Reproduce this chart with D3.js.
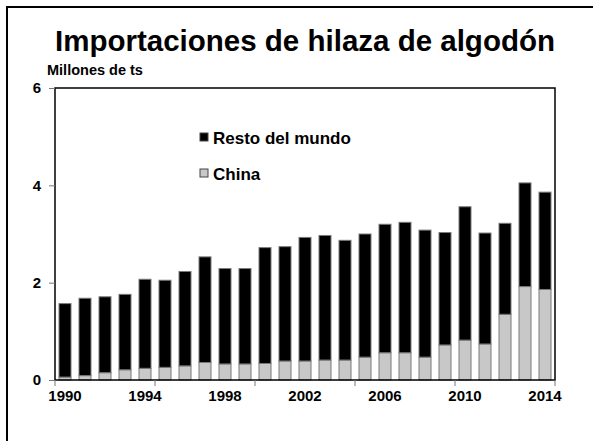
<!DOCTYPE html>
<html>
<head>
<meta charset="utf-8">
<script src="https://cdn.jsdelivr.net/npm/d3@7"></script>
<style>
  body { margin: 0; background: #fff; }
  text { font-family: "Liberation Sans", Arial, sans-serif; font-weight: bold; fill: #000; }
</style>
</head>
<body>
<svg id="chart"></svg>
<script>
// years 1990-2014, millions of tonnes
var years = d3.range(1990, 2015);
var china = [0.06, 0.09, 0.15, 0.21, 0.24, 0.26, 0.29, 0.36, 0.33, 0.33,
             0.34, 0.39, 0.39, 0.41, 0.41, 0.47, 0.56, 0.56, 0.47, 0.72,
             0.82, 0.74, 1.35, 1.92, 1.86];
var resto = [1.51, 1.59, 1.56, 1.55, 1.83, 1.79, 1.94, 2.17, 1.96, 1.96,
             2.38, 2.35, 2.54, 2.56, 2.46, 2.53, 2.64, 2.68, 2.61, 2.31,
             2.74, 2.28, 1.87, 2.13, 2.00];
var yTicks = [0, 2, 4, 6];
var xLabels = [1990, 1994, 1998, 2002, 2006, 2010, 2014];
var seriesNames = ["Resto del mundo", "China"];
var seriesColors = ["#000000", "#c8c8c8"];

var width = 593;
var height = 441;
var plotLeft = 55, plotRight = 555, plotTop = 88, plotBottom = 380;

var svg = d3.select("#chart").attr("width", width).attr("height", height);

// outer frame
svg.append("rect")
  .attr("x", 7).attr("y", 7)
  .attr("width", 600).attr("height", 460)
  .attr("fill", "none")
  .attr("stroke", "#000")
  .attr("stroke-width", 2);

svg.append("text")
  .attr("x", 305).attr("y", 51)
  .attr("text-anchor", "middle")
  .attr("font-size", "29.5px")
  .text("Importaciones de hilaza de algodón");

svg.append("text")
  .attr("x", 47).attr("y", 75)
  .attr("font-size", "14.5px")
  .text("Millones de ts");

var x = d3.scaleBand().domain(years).range([plotLeft, plotRight])
  .paddingInner(0.4).paddingOuter(0.2);
var y = d3.scaleLinear().domain([0, 6]).range([plotBottom, plotTop]);

var data = years.map(function (yr, i) {
  return { year: yr, china: china[i], resto: resto[i] };
});
var stack = d3.stack().keys(["china", "resto"]);
var layers = stack(data); // china at the bottom, resto on top

var colorFor = { china: seriesColors[1], resto: seriesColors[0] };

svg.selectAll("g.layer")
  .data(layers)
  .enter()
  .append("g")
  .attr("class", "layer")
  .attr("fill", function (d) { return colorFor[d.key]; })
  .selectAll("rect")
  .data(function (d) { return d; })
  .enter()
  .append("rect")
  .attr("x", function (d) { return x(d.data.year); })
  .attr("y", function (d) { return y(d[1]); })
  .attr("width", x.bandwidth())
  .attr("height", function (d) { return y(d[0]) - y(d[1]); })
  .attr("stroke", "#7a7a7a")
  .attr("stroke-width", 1);

// plot border
svg.append("rect")
  .attr("x", plotLeft).attr("y", plotTop)
  .attr("width", plotRight - plotLeft).attr("height", plotBottom - plotTop)
  .attr("fill", "none")
  .attr("stroke", "#000")
  .attr("stroke-width", 1.5);

// y axis
var yAxis = svg.append("g")
  .attr("transform", "translate(" + plotLeft + ",0)")
  .call(d3.axisLeft(y).tickValues(yTicks).tickSize(6).tickPadding(8).tickFormat(d3.format("d")));
yAxis.select(".domain").remove();
yAxis.selectAll("line").attr("stroke", "#777");
yAxis.selectAll("text").attr("font-size", "15px");

// x axis: labels every 4 years, tick marks every 5 categories
var xAxis = svg.append("g")
  .attr("transform", "translate(0," + plotBottom + ")")
  .call(d3.axisBottom(x).tickValues(xLabels).tickSize(0).tickPadding(10));
xAxis.select(".domain").remove();
xAxis.selectAll("text").attr("font-size", "15px");

var gap = (x.step() - x.bandwidth()) / 2;
var tickYears = years.filter(function (d, i) { return i % 5 === 0; });
svg.selectAll("line.xtick")
  .data(tickYears.concat([null]))
  .enter()
  .append("line")
  .attr("class", "xtick")
  .attr("x1", function (d) { return d === null ? plotRight : x(d) - gap; })
  .attr("x2", function (d) { return d === null ? plotRight : x(d) - gap; })
  .attr("y1", plotBottom)
  .attr("y2", plotBottom + 6)
  .attr("stroke", "#777");

// legend
var legend = svg.selectAll("g.legend")
  .data(seriesNames)
  .enter()
  .append("g")
  .attr("class", "legend")
  .attr("transform", function (d, i) { return "translate(200," + (133 + i * 36) + ")"; });
legend.append("rect")
  .attr("width", 8).attr("height", 8)
  .attr("fill", function (d, i) { return seriesColors[i]; })
  .attr("stroke", "#444")
  .attr("stroke-width", 1);
legend.append("text")
  .attr("x", 13).attr("y", 11)
  .attr("font-size", "17px")
  .text(function (d) { return d; });
</script>
</body>
</html>
